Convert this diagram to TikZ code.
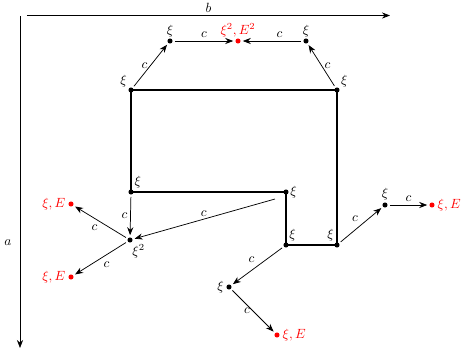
\documentclass[tikz,border=0pt]{standalone}
\usetikzlibrary{arrows.meta}
\begin{document}
\begin{tikzpicture}[x=0.75pt,y=-0.75pt,
  dot/.style={circle,fill=black,inner sep=0pt,minimum size=3.8pt},
  rdot/.style={circle,fill=red,inner sep=0pt,minimum size=3.8pt},
  rl/.style={text=red},
  arr/.style={-{Stealth[length=6pt,width=4.6pt]},line width=0.55pt,shorten >=1.5pt,shorten <=1.5pt},
  wall/.style={line width=1.1pt},
  axis/.style={-{Stealth[length=6pt,width=4.6pt]},line width=0.55pt},
  lab/.style={inner sep=2pt}]
\useasboundingbox (0,0) rectangle (462,351);
% axes
\coordinate (bs) at (27,15.5);
\coordinate (be) at (390,15.5);
\coordinate (as) at (20,16);
\coordinate (ae) at (20,348);
\draw[axis] (bs) -- node[above,inner sep=2pt]{$b$} (be);
\draw[axis] (as) -- (ae);
\node (alab) at (8,243) {$a$};
% nodes
\node[dot,label={[inner sep=1pt]above:$\xi$}] (tl) at (170,41) {};
\node[rdot,label={[inner sep=1pt,rl]above:$\xi^2,E^2$}] (rtop) at (238,41) {};
\node[dot,label={[inner sep=1pt]above:$\xi$}] (tr) at (306,41) {};
\node[dot,label={[inner sep=1pt]155:$\xi$}] (r1) at (131,90) {};
\node[dot,label={[inner sep=1pt]25:$\xi$}] (r2) at (337,90) {};
\node[dot,label={[inner sep=1pt]45:$\xi$}] (r3) at (131,192) {};
\node[dot,label={[inner sep=1pt]right:$\xi$}] (r4) at (286,192) {};
\node[dot,label={[inner sep=1pt]50:$\xi$}] (r5) at (286,245) {};
\node[dot,label={[inner sep=1pt]125:$\xi$}] (r6) at (337,245) {};
\node[dot,label={[inner sep=1pt]-75:$\xi^2$}] (x2) at (130,240) {};
\node[rdot,label={[inner sep=2pt,rl]left:$\xi,E$}] (e1) at (71,204) {};
\node[rdot,label={[inner sep=2pt,rl]left:$\xi,E$}] (e2) at (71,277) {};
\node[dot,label={[inner sep=1.5pt]left:$\xi$}] (m1) at (229,287) {};
\node[rdot,label={[inner sep=2pt,rl]right:$\xi,E$}] (e3) at (277,335) {};
\node[dot,label={[inner sep=1.5pt]above:$\xi$}] (m2) at (385,205) {};
\node[rdot,label={[inner sep=2pt,rl]right:$\xi,E$}] (e4) at (432,205) {};
\coordinate (fr) at (275,199);
% walls
\draw[wall] (r1.center) -- (r2.center) -- (r6.center) -- (r5.center) -- (r4.center) -- (r3.center) -- cycle;
% arrows
\draw[arr] (r1) -- node[lab,midway,left]{$c$} (tl);
\draw[arr] (tl) -- node[lab,midway,above]{$c$} (rtop);
\draw[arr] (tr) -- node[lab,pos=0.38,above]{$c$} (rtop);
\draw[arr] (r2) -- node[lab,midway,right]{$c$} (tr);
\draw[arr] (r3) -- node[lab,midway,left]{$c$} (x2);
\draw[arr,shorten <=0pt] (fr) -- node[lab,midway,above]{$c$} (x2);
\draw[arr] (x2) -- node[lab,midway,below left]{$c$} (e1);
\draw[arr] (x2) -- node[lab,midway,below right]{$c$} (e2);
\draw[arr] (r5) -- node[lab,midway,above left]{$c$} (m1);
\draw[arr] (m1) -- node[lab,midway,left]{$c$} (e3);
\draw[arr] (r6) -- node[lab,midway,above left]{$c$} (m2);
\draw[arr] (m2) -- node[lab,midway,above]{$c$} (e4);
\end{tikzpicture}
\end{document}
